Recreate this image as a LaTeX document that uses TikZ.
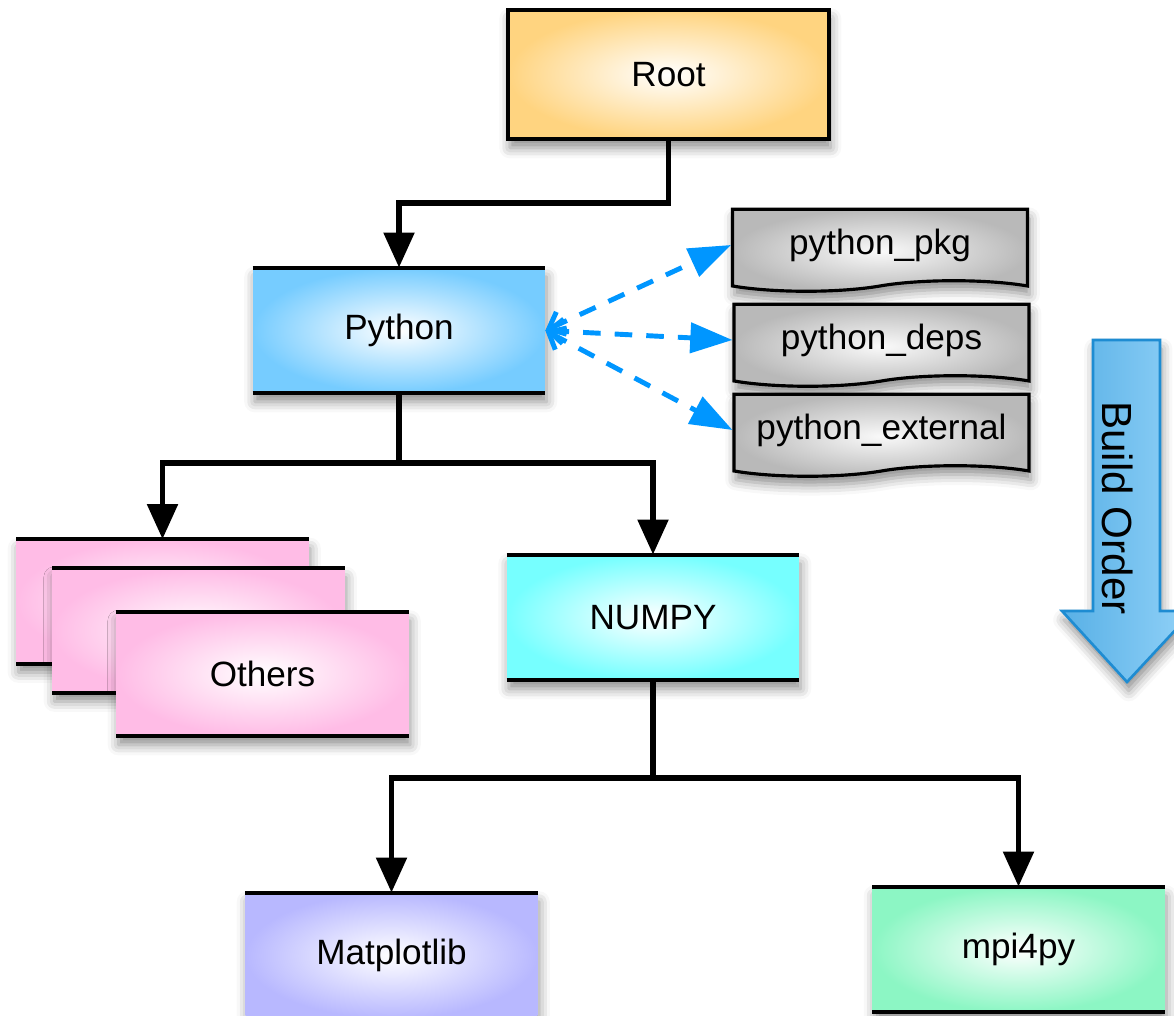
\documentclass[tikz,border=0pt]{standalone}
\usepackage{fontspec}
\setmainfont{Liberation Sans}
\usetikzlibrary{arrows.meta, positioning, shapes.symbols, shadows.blur}

\definecolor{rootorange}{RGB}{255, 212, 128}
\definecolor{pyblue}{RGB}{118, 204, 255}
\definecolor{otherpink}{RGB}{255, 188, 230}
\definecolor{numpycyan}{RGB}{118, 255, 255}
\definecolor{mplviolet}{RGB}{184, 184, 255}
\definecolor{mpimint}{RGB}{140, 246, 196}
\definecolor{docgray}{RGB}{185, 185, 185}
\definecolor{depblue}{RGB}{0, 150, 255}
\definecolor{orderleft}{RGB}{88, 176, 230}
\definecolor{orderright}{RGB}{146, 210, 248}
\definecolor{orderedge}{RGB}{30, 140, 210}

\begin{document}
\begin{tikzpicture}[
  x=0.02cm, y=-0.02cm,
  font=\fontsize{20}{24}\selectfont,
  soft/.style={blur shadow={shadow xshift=1pt, shadow yshift=-5pt, shadow blur radius=6pt, shadow opacity=45}},
  bar/.style={draw=black, line width=2.4pt},
  rootbox/.style={soft, draw=black, line width=2.2pt, inner color=white, outer color=rootorange, minimum width=6.42cm, minimum height=2.58cm},
  tbbox/.style={soft, inner color=white, outer color=#1, minimum width=5.84cm, minimum height=2.5cm,
    append after command={(\tikzlastnode.north west) edge[bar] (\tikzlastnode.north east)
      (\tikzlastnode.south west) edge[bar] (\tikzlastnode.south east)}},
  docbox/.style={soft, tape, tape bend top=none, tape bend bottom=in and out, tape bend height=6pt,
    draw=black, line width=1.8pt, inner color=white!92!docgray, outer color=docgray, minimum width=5.9cm, minimum height=1.64cm},
  conn/.style={draw=black, line width=3.4pt, -{Triangle[length=20pt, width=17pt]}},
  dep/.style={draw=depblue, line width=2.8pt, dash pattern=on 10pt off 8pt,
    arrows={{Straight Barb[length=8pt, width=14pt]}-{Triangle[length=24pt, width=17pt]}}}
]
  \useasboundingbox (0,0) rectangle (1174,1016);

  % build tree
  \node[rootbox] (root) at (668.5, 74.5) {Root};
  \node[tbbox=pyblue] (python) at (399, 330.5) {Python};

  \node[docbox] (pkg) at (880, 245) {python\_pkg};
  \node[docbox] (deps) at (881.5, 340) {python\_deps};
  \node[docbox] (ext) at (881.5, 430) {python\_external};

  \node[tbbox=otherpink, minimum height=2.48cm] (oth1) at (162.5, 601.5) {};
  \node[tbbox=otherpink, minimum height=2.48cm] (oth2) at (198.5, 630.5) {};
  \node[tbbox=otherpink, minimum height=2.48cm] (oth3) at (262.5, 674) {Others};

  \node[tbbox=numpycyan] (numpy) at (653, 617.5) {NUMPY};
  \node[tbbox=mplviolet] (mpl) at (391.5, 955.5) {Matplotlib};
  \node[tbbox=mpimint] (mpi) at (1018.5, 949.5) {mpi4py};

  % connectors
  \coordinate (rootjoint) at (668.5, 203);
  \coordinate (pyjoint) at (399, 463);
  \coordinate (npjoint) at (653, 778);
  \draw[conn] (root.south) -- (rootjoint) -| (python.north);
  \draw[conn] (python.south) -- (pyjoint) -| (oth1.north);
  \draw[conn] (pyjoint) -| (numpy.north);
  \draw[conn] (numpy.south) -- (npjoint) -| (mpl.north);
  \draw[conn] (npjoint) -| (mpi.north);

  \draw[dep] (python.east) -- (pkg.west);
  \draw[dep] (python.east) -- (deps.west);
  \draw[dep] (python.east) -- (ext.west);

  % build order arrow
  \path[soft, draw=orderedge, line width=1.5pt, left color=orderleft, right color=orderright]
    (1093,340) -- (1160,340) -- (1160,611) -- (1193,611) -- (1127,682) -- (1062,611) -- (1093,611) -- cycle;
  \node[rotate=-90, font=\fontsize{24}{28}\selectfont] (order) at (1118, 508) {Build Order};
\end{tikzpicture}
\end{document}
